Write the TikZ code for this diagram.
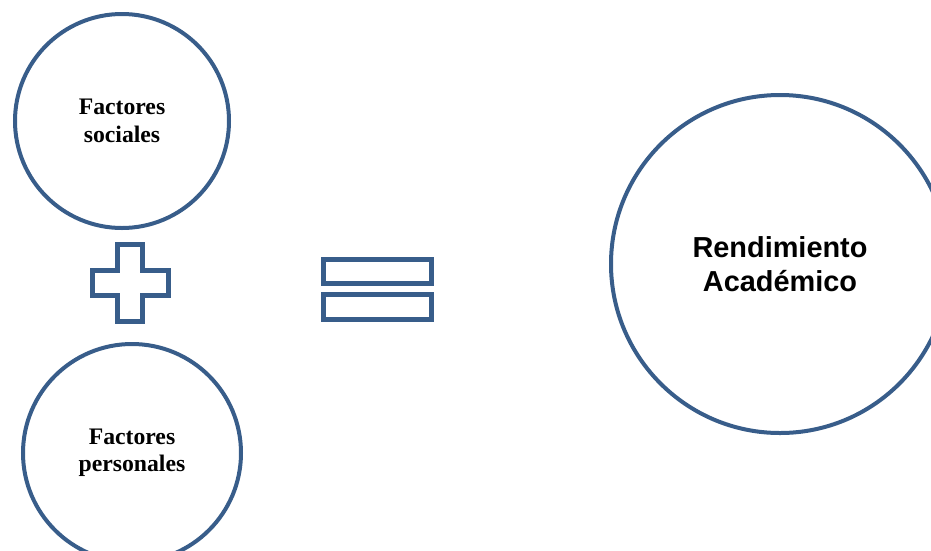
\documentclass[tikz,border=0pt]{standalone}
\usepackage{fontspec}
\setmainfont{Liberation Serif}
\setsansfont{Liberation Sans}
\usepackage{tikz}
\usepackage{xcolor}
\definecolor{Navy}{HTML}{385D8A}

\begin{document}
\begin{tikzpicture}[x=1pt,y=-1pt,
    factor/.style={circle,draw=Navy,line width=4pt,inner sep=0pt,align=center,
      font=\bfseries\fontsize{23.7}{27.5}\selectfont},
    result/.style={circle,draw=Navy,line width=4pt,inner sep=0pt,align=center,
      font=\sffamily\bfseries\fontsize{28.9}{34}\selectfont},
    sign/.style={draw=Navy,line width=5pt}]
  \clip (0,0) rectangle (931,550);
  \useasboundingbox (0,0) rectangle (931,550);
  \node[factor,minimum size=214pt] (social) at (122,121) {Factores\\sociales};
  \node[factor,minimum size=218pt] (personal) at (132,453) {Factores\\personales};
  \node[result,minimum size=338pt] (rendimiento) at (780,264) {Rendimiento\\Académico};
  % plus
  \draw[sign] (117.5,244.5) -- (142.5,244.5) -- (142.5,270.5) -- (168.5,270.5)
    -- (168.5,295.5) -- (142.5,295.5) -- (142.5,321.5) -- (117.5,321.5)
    -- (117.5,295.5) -- (92.5,295.5) -- (92.5,270.5) -- (117.5,270.5) -- cycle;
  % equals
  \draw[sign] (323.5,259.5) rectangle (431.5,283.5);
  \draw[sign] (323.5,294.5) rectangle (431.5,319.5);
\end{tikzpicture}
\end{document}
